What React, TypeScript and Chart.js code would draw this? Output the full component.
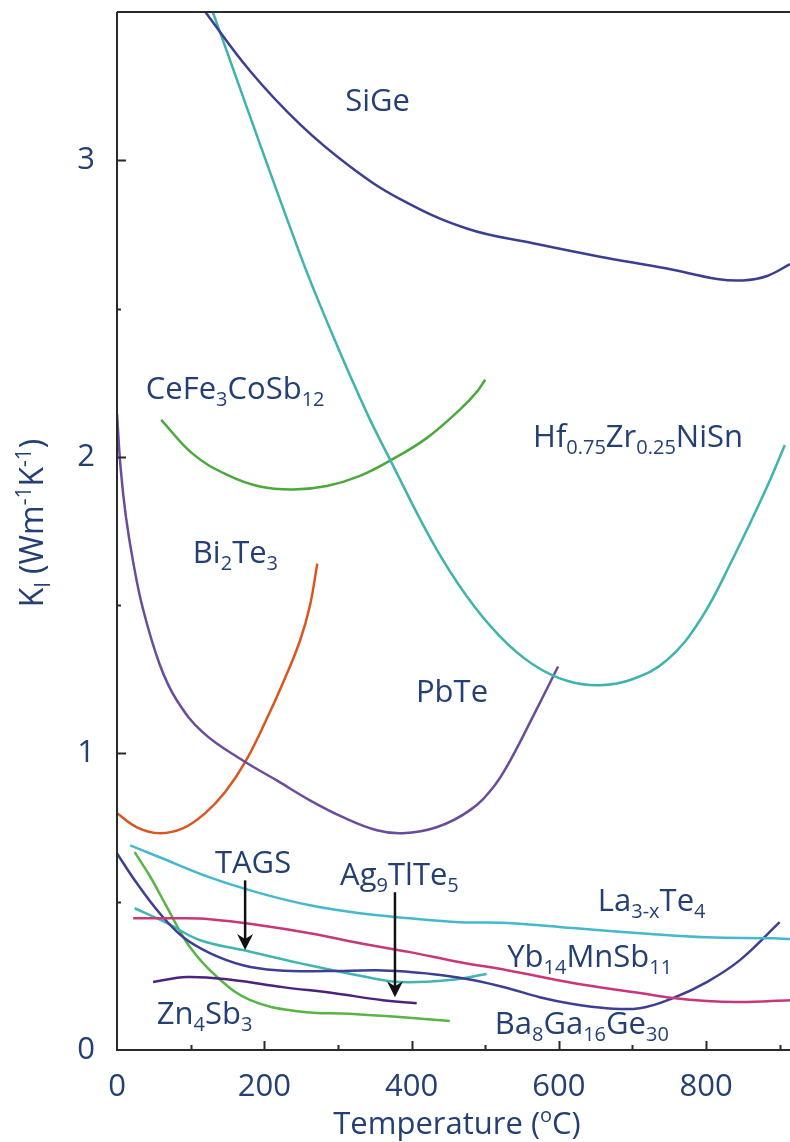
import React, { useEffect, useRef } from "react";
import { Chart, registerables } from "chart.js";

Chart.register(...registerables);

// ---- data (x in °C, y in W m^-1 K^-1) ----
const sigeX = [114, 181, 249, 316, 384, 475, 565, 656, 747, 815, 850, 883, 914];
const sigeY = [3.52, 3.3, 3.12, 2.98, 2.87, 2.77, 2.72, 2.675, 2.635, 2.6, 2.595, 2.61, 2.65];

const hfX = [125, 249, 293, 339, 371, 429, 475, 520, 565, 611, 656, 700, 747, 792, 837, 883, 907];
const hfY = [3.535, 2.68, 2.41, 2.15, 1.99, 1.71, 1.53, 1.395, 1.3, 1.245, 1.23, 1.25, 1.315, 1.45, 1.66, 1.9, 2.04];

const cefeX = [60, 103, 149, 194, 239, 285, 330, 375, 421, 466, 489, 500];
const cefeY = [2.125, 2.01, 1.94, 1.9, 1.89, 1.902, 1.936, 1.993, 2.064, 2.16, 2.22, 2.26];

const pbteX = [0, 5, 12, 22, 35, 58, 81, 117, 171, 217, 262, 307, 353, 388, 434, 479, 511, 534, 565, 599];
const pbteY = [2.145, 1.96, 1.8, 1.645, 1.49, 1.3, 1.18, 1.07, 0.976, 0.909, 0.842, 0.785, 0.741, 0.731, 0.751, 0.808, 0.886, 0.976, 1.125, 1.293];

const biteX = [0, 27, 58, 90, 119.5, 146.6, 173.8, 201, 228, 248.5, 262, 272];
const biteY = [0.798, 0.751, 0.731, 0.748, 0.798, 0.869, 0.97, 1.104, 1.253, 1.38, 1.498, 1.64];

const laX = [18, 58, 126, 194, 262, 330, 398, 466, 530, 619, 710, 801, 891, 914];
const laY = [0.69, 0.65, 0.582, 0.529, 0.488, 0.461, 0.444, 0.431, 0.428, 0.411, 0.394, 0.38, 0.377, 0.374];

const ybX = [22, 81, 126, 194, 262, 330, 398, 466, 530, 619, 710, 755, 801, 846, 914];
const ybY = [0.444, 0.444, 0.441, 0.421, 0.394, 0.36, 0.33, 0.296, 0.269, 0.226, 0.192, 0.175, 0.165, 0.162, 0.168];

const baX = [0, 27, 58, 90, 126, 171, 217, 285, 353, 398, 439, 483, 530, 574, 619, 665, 710, 755, 801, 846, 900];
const baY = [0.663, 0.562, 0.461, 0.38, 0.327, 0.286, 0.269, 0.266, 0.269, 0.263, 0.253, 0.236, 0.209, 0.178, 0.155, 0.141, 0.141, 0.175, 0.229, 0.303, 0.431];

const tagsX = [24, 68, 113, 171, 248, 339, 384, 452, 502];
const tagsY = [0.478, 0.428, 0.37, 0.337, 0.293, 0.246, 0.229, 0.236, 0.256];

const agX = [49, 95, 157, 225, 293, 361, 407];
const agY = [0.229, 0.246, 0.236, 0.212, 0.192, 0.168, 0.158];

const znX = [24, 45, 68, 99, 136, 181, 248, 316, 384, 452];
const znY = [0.667, 0.585, 0.481, 0.347, 0.246, 0.168, 0.13, 0.122, 0.111, 0.098];

const xTickValues = [0, 100, 200, 300, 400, 500, 600, 700, 800, 900];
const yTickValues = [0, 0.5, 1, 1.5, 2, 2.5, 3, 3.5];

type Seg = { t: string; k?: "sub" | "sup" };

// curve labels: anchor in data units (left edge, baseline)
const curveLabels: { x: number; y: number; segs: Seg[] }[] = [
  { x: 310, y: 3.165, segs: [{ t: "SiGe" }] },
  { x: 39, y: 2.195, segs: [{ t: "CeFe" }, { t: "3", k: "sub" }, { t: "CoSb" }, { t: "12", k: "sub" }] },
  { x: 565, y: 2.034, segs: [{ t: "Hf" }, { t: "0.75", k: "sub" }, { t: "Zr" }, { t: "0.25", k: "sub" }, { t: "NiSn" }] },
  { x: 103, y: 1.643, segs: [{ t: "Bi" }, { t: "2", k: "sub" }, { t: "Te" }, { t: "3", k: "sub" }] },
  { x: 406, y: 1.175, segs: [{ t: "PbTe" }] },
  { x: 133, y: 0.596, segs: [{ t: "TAGS" }] },
  { x: 303, y: 0.556, segs: [{ t: "Ag" }, { t: "9", k: "sub" }, { t: "TlTe" }, { t: "5", k: "sub" }] },
  { x: 653, y: 0.468, segs: [{ t: "La" }, { t: "3-x", k: "sub" }, { t: "Te" }, { t: "4", k: "sub" }] },
  { x: 530, y: 0.279, segs: [{ t: "Yb" }, { t: "14", k: "sub" }, { t: "MnSb" }, { t: "11", k: "sub" }] },
  { x: 54, y: 0.0875, segs: [{ t: "Zn" }, { t: "4", k: "sub" }, { t: "Sb" }, { t: "3", k: "sub" }] },
  { x: 513, y: 0.054, segs: [{ t: "Ba" }, { t: "8", k: "sub" }, { t: "Ga" }, { t: "16", k: "sub" }, { t: "Ge" }, { t: "30", k: "sub" }] },
];

const arrows = [
  { x: 174, yFrom: 0.572, yTo: 0.337 },
  { x: 377.5, yFrom: 0.532, yTo: 0.178 },
];

const FONT = "'Open Sans', 'Noto Sans', sans-serif";
const TEXT = "#233f73";
const BASE = 31;

function segFont(size: number, k?: string) {
  const s = k ? Math.round(size * 0.66) : size;
  return `${s}px ${FONT}`;
}

function richWidth(ctx: CanvasRenderingContext2D, segs: Seg[], size: number) {
  let w = 0;
  for (const s of segs) {
    ctx.font = segFont(size, s.k);
    w += ctx.measureText(s.t).width;
  }
  return w;
}

function drawRich(ctx: CanvasRenderingContext2D, x: number, y: number, segs: Seg[], size: number) {
  let cx = x;
  ctx.textBaseline = "alphabetic";
  ctx.textAlign = "left";
  for (const s of segs) {
    ctx.font = segFont(size, s.k);
    const dy = s.k === "sub" ? size * 0.22 : s.k === "sup" ? -size * 0.38 : 0;
    ctx.fillText(s.t, cx, y + dy);
    cx += ctx.measureText(s.t).width;
  }
}

const overlay = {
  id: "overlay",
  afterDatasetsDraw(chart: any) {
    const { ctx, chartArea, scales } = chart;
    const xs = scales.x;
    const ys = scales.y;
    ctx.save();
    // frame
    ctx.strokeStyle = "#2a2a2a";
    ctx.lineWidth = 2;
    ctx.beginPath();
    ctx.moveTo(chartArea.left, chartArea.top);
    ctx.lineTo(chartArea.right, chartArea.top);
    ctx.moveTo(chartArea.left, chartArea.top);
    ctx.lineTo(chartArea.left, chartArea.bottom);
    ctx.lineTo(chartArea.right, chartArea.bottom);
    ctx.stroke();
    // inward ticks
    ctx.beginPath();
    for (const v of xTickValues) {
      if (v === 0) continue;
      const px = Math.round(xs.getPixelForValue(v)) + 0.5;
      const len = v % 200 === 0 ? 9 : 5;
      ctx.moveTo(px, chartArea.bottom);
      ctx.lineTo(px, chartArea.bottom - len);
    }
    for (const v of yTickValues) {
      if (v === 0 || v === 3.5) continue;
      const py = Math.round(ys.getPixelForValue(v)) + 0.5;
      const len = Number.isInteger(v) ? 9 : 4;
      ctx.moveTo(chartArea.left, py);
      ctx.lineTo(chartArea.left + len, py);
    }
    ctx.stroke();

    // arrows
    ctx.strokeStyle = "#111";
    ctx.fillStyle = "#111";
    ctx.lineWidth = 2.5;
    for (const a of arrows) {
      const px = xs.getPixelForValue(a.x);
      const y0 = ys.getPixelForValue(a.yFrom);
      const y1 = ys.getPixelForValue(a.yTo);
      ctx.beginPath();
      ctx.moveTo(px, y0);
      ctx.lineTo(px, y1 - 8);
      ctx.stroke();
      ctx.beginPath();
      ctx.moveTo(px, y1);
      ctx.lineTo(px - 8, y1 - 16);
      ctx.lineTo(px, y1 - 11);
      ctx.lineTo(px + 8, y1 - 16);
      ctx.closePath();
      ctx.fill();
    }

    // curve labels
    ctx.fillStyle = TEXT;
    for (const l of curveLabels) {
      drawRich(ctx, xs.getPixelForValue(l.x), ys.getPixelForValue(l.y), l.segs, BASE);
    }

    // x title
    const xt: Seg[] = [{ t: "Temperature (" }, { t: "o", k: "sup" }, { t: "C)" }];
    const xw = richWidth(ctx, xt, BASE);
    drawRich(ctx, 457 - xw / 2, 1134, xt, BASE);

    // y title (rotated)
    const yt: Seg[] = [
      { t: "K" },
      { t: "l", k: "sub" },
      { t: " (Wm" },
      { t: "-1", k: "sup" },
      { t: "K" },
      { t: "-1", k: "sup" },
      { t: ")" },
    ];
    const ysize = 32;
    const yw = richWidth(ctx, yt, ysize);
    ctx.translate(0, 523);
    ctx.rotate(-Math.PI / 2);
    drawRich(ctx, -yw / 2, 43, yt, ysize);
    ctx.restore();
  },
};

function series(label: string, xsArr: number[], ysArr: number[], color: string) {
  return {
    label,
    data: xsArr.map((x, i) => ({ x, y: ysArr[i] })),
    borderColor: color,
    backgroundColor: color,
    borderWidth: 2.5,
    pointRadius: 0,
    fill: false,
    tension: 0.4,
  };
}

function zeroPad(s: any) {
  s.paddingTop = 0;
  s.paddingBottom = 0;
  s.paddingLeft = 0;
  s.paddingRight = 0;
}

export default function App() {
  const ref = useRef<HTMLCanvasElement>(null);
  useEffect(() => {
    if (!ref.current) return;
    const chart = new Chart(ref.current, {
      type: "line",
      data: {
        datasets: [
          series("SiGe", sigeX, sigeY, "#3b3f92"),
          series("Hf0.75Zr0.25NiSn", hfX, hfY, "#3fb3ad"),
          series("CeFe3CoSb12", cefeX, cefeY, "#4aa93a"),
          series("PbTe", pbteX, pbteY, "#6a4c9c"),
          series("Bi2Te3", biteX, biteY, "#d9561f"),
          series("La3-xTe4", laX, laY, "#44b8cc"),
          series("Yb14MnSb11", ybX, ybY, "#c9367a"),
          series("Ba8Ga16Ge30", baX, baY, "#3d3f95"),
          series("TAGS", tagsX, tagsY, "#41b5b0"),
          series("Ag9TlTe5", agX, agY, "#4b237e"),
          series("Zn4Sb3", znX, znY, "#57b545"),
        ],
      },
      options: {
        responsive: false,
        devicePixelRatio: 1,
        animation: false,
        layout: { padding: { top: 12, left: 0, right: 0, bottom: 0 }, autoPadding: false } as any,
        plugins: { legend: { display: false }, tooltip: { enabled: false } },
        scales: {
          x: {
            type: "linear",
            min: 0,
            max: 914,
            afterBuildTicks: (s: any) => {
              s.ticks = xTickValues.map((v) => ({ value: v }));
            },
            afterFit: (s: any) => {
              s.height = 92;
              zeroPad(s);
            },
            ticks: {
              autoSkip: false,
              maxRotation: 0,
              padding: 19,
              color: TEXT,
              font: { family: FONT, size: BASE },
              callback: (v: any) => (v % 200 === 0 && v <= 800 ? String(v) : ""),
            },
            grid: { display: false, drawTicks: false },
            border: { display: false },
          },
          y: {
            type: "linear",
            min: 0,
            max: 3.5,
            afterBuildTicks: (s: any) => {
              s.ticks = yTickValues.map((v) => ({ value: v }));
            },
            afterFit: (s: any) => {
              s.width = 117;
              zeroPad(s);
            },
            ticks: {
              autoSkip: false,
              padding: 22,
              color: TEXT,
              font: { family: FONT, size: BASE },
              callback: (v: any) => (Number.isInteger(v) && v <= 3 ? String(v) : ""),
            },
            grid: { display: false, drawTicks: false },
            border: { display: false },
          },
        },
      },
      plugins: [overlay],
    });
    return () => chart.destroy();
  }, []);
  return (
    <div style={{ position: "absolute", left: 0, top: 0, width: 790, height: 1142, background: "#fff" }}>
      <canvas ref={ref} width={790} height={1142} style={{ display: "block", width: 790, height: 1142 }} />
    </div>
  );
}
